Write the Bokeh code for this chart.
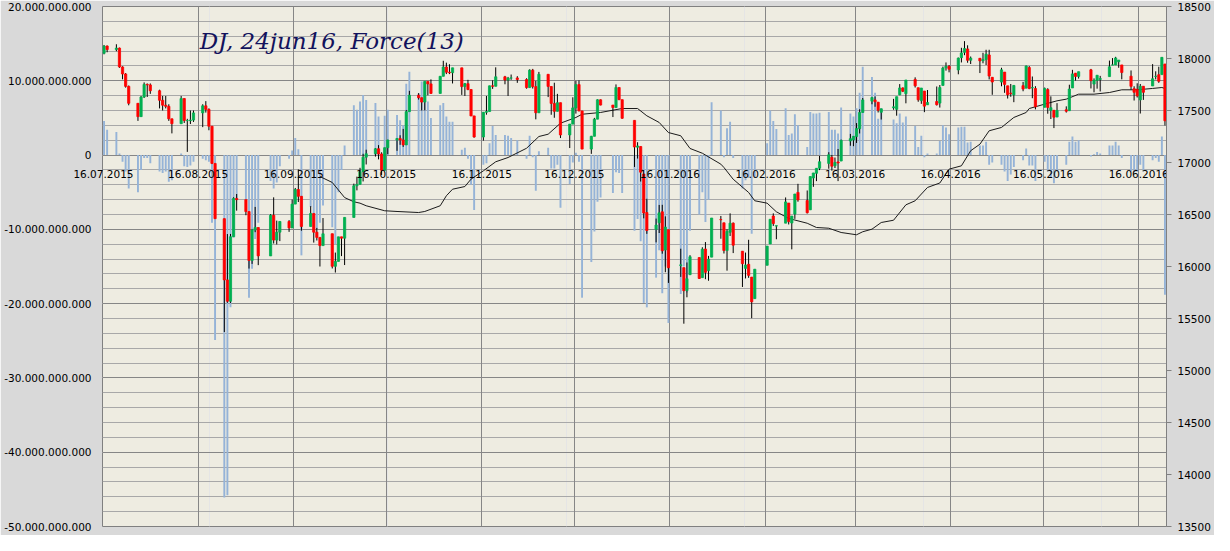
import datetime as dt
from bokeh.plotting import figure
from bokeh.models import Range1d, LinearAxis, FixedTicker, Grid
from bokeh.embed import file_html
from bokeh.resources import INLINE
from bokeh.core.properties import value

# ---------------- data ----------------
dates = [
    "2015-07-16", "2015-07-17", "2015-07-20", "2015-07-21", "2015-07-22", "2015-07-23", "2015-07-24",
    "2015-07-27", "2015-07-28", "2015-07-29", "2015-07-30", "2015-07-31",
    "2015-08-03", "2015-08-04", "2015-08-05", "2015-08-06", "2015-08-07", "2015-08-10", "2015-08-11",
    "2015-08-12", "2015-08-13", "2015-08-14", "2015-08-17", "2015-08-18", "2015-08-19", "2015-08-20",
    "2015-08-21", "2015-08-24", "2015-08-25", "2015-08-26", "2015-08-27", "2015-08-28", "2015-08-31",
    "2015-09-01", "2015-09-02", "2015-09-03", "2015-09-04", "2015-09-08", "2015-09-09", "2015-09-10",
    "2015-09-11", "2015-09-14", "2015-09-15", "2015-09-16", "2015-09-17", "2015-09-18", "2015-09-21",
    "2015-09-22", "2015-09-23", "2015-09-24", "2015-09-25", "2015-09-28", "2015-09-29", "2015-09-30",
    "2015-10-01", "2015-10-02", "2015-10-05", "2015-10-06", "2015-10-07", "2015-10-08", "2015-10-09",
    "2015-10-12", "2015-10-13", "2015-10-14", "2015-10-15", "2015-10-16", "2015-10-19", "2015-10-20",
    "2015-10-21", "2015-10-22", "2015-10-23", "2015-10-26", "2015-10-27", "2015-10-28", "2015-10-29",
    "2015-10-30",
    "2015-11-02", "2015-11-03", "2015-11-04", "2015-11-05", "2015-11-06", "2015-11-09", "2015-11-10",
    "2015-11-11", "2015-11-12", "2015-11-13", "2015-11-16", "2015-11-17", "2015-11-18", "2015-11-19",
    "2015-11-20", "2015-11-23", "2015-11-24", "2015-11-25", "2015-11-27", "2015-11-30",
    "2015-12-01", "2015-12-02", "2015-12-03", "2015-12-04", "2015-12-07", "2015-12-08", "2015-12-09",
    "2015-12-10", "2015-12-11", "2015-12-14", "2015-12-15", "2015-12-16", "2015-12-17", "2015-12-18",
    "2015-12-21", "2015-12-22", "2015-12-23", "2015-12-24", "2015-12-28", "2015-12-29", "2015-12-30",
    "2015-12-31",
    "2016-01-04", "2016-01-05", "2016-01-06", "2016-01-07", "2016-01-08", "2016-01-11", "2016-01-12",
    "2016-01-13", "2016-01-14", "2016-01-15", "2016-01-19", "2016-01-20", "2016-01-21", "2016-01-22",
    "2016-01-25", "2016-01-26", "2016-01-27", "2016-01-28", "2016-01-29",
    "2016-02-01", "2016-02-02", "2016-02-03", "2016-02-04", "2016-02-05", "2016-02-08", "2016-02-09",
    "2016-02-10", "2016-02-11", "2016-02-12", "2016-02-16", "2016-02-17", "2016-02-18", "2016-02-19",
    "2016-02-22", "2016-02-23", "2016-02-24", "2016-02-25", "2016-02-26", "2016-02-29",
    "2016-03-01", "2016-03-02", "2016-03-03", "2016-03-04", "2016-03-07", "2016-03-08", "2016-03-09",
    "2016-03-10", "2016-03-11", "2016-03-14", "2016-03-15", "2016-03-16", "2016-03-17", "2016-03-18",
    "2016-03-21", "2016-03-22", "2016-03-23", "2016-03-24", "2016-03-28", "2016-03-29", "2016-03-30",
    "2016-03-31",
    "2016-04-01", "2016-04-04", "2016-04-05", "2016-04-06", "2016-04-07", "2016-04-08", "2016-04-11",
    "2016-04-12", "2016-04-13", "2016-04-14", "2016-04-15", "2016-04-18", "2016-04-19", "2016-04-20",
    "2016-04-21", "2016-04-22", "2016-04-25", "2016-04-26", "2016-04-27", "2016-04-28", "2016-04-29",
    "2016-05-02", "2016-05-03", "2016-05-04", "2016-05-05", "2016-05-06", "2016-05-09", "2016-05-10",
    "2016-05-11", "2016-05-12", "2016-05-13", "2016-05-16", "2016-05-17", "2016-05-18", "2016-05-19",
    "2016-05-20", "2016-05-23", "2016-05-24", "2016-05-25", "2016-05-26", "2016-05-27", "2016-05-31",
    "2016-06-01", "2016-06-02", "2016-06-03", "2016-06-06", "2016-06-07", "2016-06-08", "2016-06-09",
    "2016-06-10", "2016-06-13", "2016-06-14", "2016-06-15", "2016-06-16", "2016-06-17", "2016-06-20",
    "2016-06-21", "2016-06-22", "2016-06-23", "2016-06-24",
]

open_ = [
    18050, 18120, 18086, 18100, 17919, 17851, 17732, 17569, 17441, 17630, 17751, 17746,
    17690, 17598, 17551, 17540, 17420, 17373, 17615, 17403, 17403, 17408, 17477, 17545, 17511, 17349,
    16991, 16460, 15871, 15666, 16286, 16655, 16643,
    16528, 16058, 16351, 16375, 16102, 16493, 16254, 16330, 16433, 16371, 16600, 16740, 16675, 16385,
    16510, 16330, 16280, 16201, 16315, 16002, 16049,
    16285, 16272, 16472, 16776, 16790, 16912, 17051, 17084, 17132, 17082, 16925, 17142, 17216, 17231,
    17217, 17169, 17489, 17647, 17623, 17581, 17780, 17756,
    17664, 17829, 17918, 17868, 17863, 17910, 17730, 17758, 17702, 17448, 17245, 17483, 17490, 17737,
    17733, 17824, 17793, 17812, 17813, 17798,
    17720, 17888, 17730, 17478, 17848, 17731, 17568, 17492, 17575, 17265, 17369, 17525, 17749, 17496,
    17129, 17252, 17417, 17603, 17552, 17528, 17721, 17604,
    17405, 17147, 17154, 16889, 16519, 16358, 16420, 16526, 16159, 16354, 16009, 15989, 15768, 15921,
    16086, 15893, 16168, 15960, 16090,
    16452, 16420, 16153, 16329, 16417, 16147, 15982, 16021, 15898, 15691, 16012, 16217, 16485, 16389,
    16417, 16610, 16418, 16504, 16712, 16634,
    16545, 16851, 16896, 16945, 16991, 17050, 16969, 17006, 17014, 17207, 17217, 17249, 17325, 17481,
    17590, 17602, 17580, 17483, 17526, 17511, 17651, 17717,
    17661, 17799, 17719, 17595, 17687, 17555, 17586, 17571, 17741, 17910, 17925, 17890, 18008, 18059,
    18092, 17983, 18002, 17978, 17990, 18034, 17819,
    17773, 17869, 17737, 17667, 17650, 17739, 17715, 17913, 17717, 17711, 17531, 17701, 17501, 17502,
    17437, 17507, 17498, 17717, 17859, 17828, 17891,
    17754, 17790, 17799, 17826, 17937, 17938, 17969, 17938, 17830, 17710, 17703, 17602, 17733, 17736,
    17827, 17844, 17845, 17947,
]

high = [
    18130, 18125, 18137, 18105, 17925, 17860, 17740, 17570, 17640, 17770, 17760, 17760,
    17700, 17640, 17640, 17560, 17420, 17640, 17615, 17420, 17500, 17500, 17560, 17590, 17520, 17349,
    16991, 16460, 16312, 16313, 16666, 16697, 16643,
    16528, 16361, 16573, 16375, 16504, 16665, 16441, 16434, 16446, 16644, 16755, 16933, 16675, 16580,
    16510, 16371, 16280, 16466, 16315, 16134, 16285,
    16285, 16472, 16797, 16864, 16949, 17084, 17123, 17138, 17167, 17098, 17142, 17219, 17235, 17262,
    17323, 17505, 17689, 17667, 17623, 17780, 17780, 17799,
    17829, 17978, 17960, 17945, 17910, 17910, 17765, 17795, 17702, 17448, 17483, 17640, 17738, 17790,
    17915, 17833, 17823, 17846, 17830, 17810,
    17896, 17900, 17784, 17871, 17848, 17731, 17767, 17660, 17575, 17369, 17627, 17785, 17789, 17496,
    17256, 17429, 17607, 17606, 17552, 17751, 17721, 17604,
    17405, 17195, 17154, 16889, 16651, 16461, 16592, 16593, 16482, 16354, 16171, 15989, 16039, 16109,
    16086, 16185, 16235, 16102, 16466,
    16486, 16420, 16357, 16511, 16423, 16147, 16134, 16257, 15898, 15974, 16196, 16454, 16511, 16392,
    16664, 16610, 16485, 16697, 16795, 16731,
    16865, 16900, 16945, 17063, 17099, 17072, 17048, 17130, 17220, 17275, 17254, 17379, 17512, 17620,
    17631, 17635, 17580, 17516, 17612, 17633, 17754, 17722,
    17793, 17819, 17719, 17716, 17687, 17697, 17731, 17745, 17922, 17962, 17937, 18009, 18103, 18167,
    18127, 18019, 18002, 18055, 18084, 18084, 17820,
    17911, 17869, 17737, 17755, 17744, 17775, 17932, 17927, 17827, 17734, 17721, 17714, 17636, 17502,
    17571, 17540, 17748, 17891, 17860, 17873, 17900,
    17809, 17839, 17833, 17980, 18004, 18016, 17985, 17938, 17885, 17733, 17762, 17755, 17733, 17946,
    17877, 17921, 18011, 17947,
]

low = [
    18040, 18060, 18070, 17910, 17800, 17720, 17550, 17400, 17440, 17620, 17630, 17660,
    17520, 17500, 17520, 17400, 17280, 17373, 17380, 17102, 17370, 17390, 17340, 17480, 17310, 16985,
    16459, 15370, 15651, 15650, 16286, 16537, 16493,
    15980, 16025, 16330, 16013, 16102, 16221, 16212, 16244, 16333, 16371, 16600, 16620, 16344, 16385,
    16230, 16250, 16000, 16201, 15981, 15942, 16049,
    16100, 16014, 16472, 16732, 16790, 16818, 16981, 17057, 17030, 16880, 16925, 17080, 17112, 17170,
    17150, 17169, 17489, 17605, 17500, 17501, 17646, 17661,
    17664, 17829, 17850, 17850, 17760, 17650, 17640, 17695, 17446, 17239, 17210, 17460, 17490, 17708,
    17733, 17752, 17640, 17795, 17766, 17710,
    17720, 17711, 17415, 17478, 17629, 17459, 17430, 17492, 17235, 17139, 17369, 17470, 17492, 17129,
    17083, 17252, 17417, 17550, 17437, 17528, 17600, 17421,
    16957, 17038, 16817, 16463, 16314, 16232, 16322, 16123, 15945, 15842, 15900, 15450, 15704, 15921,
    15881, 15893, 15878, 15863, 16090,
    16267, 16125, 15960, 16293, 16129, 15803, 15885, 15891, 15503, 15691, 16012, 16217, 16390, 16262,
    16417, 16404, 16165, 16458, 16623, 16510,
    16545, 16766, 16821, 16927, 16940, 16921, 16947, 16821, 17014, 17161, 17157, 17188, 17279, 17481,
    17560, 17536, 17481, 17413, 17507, 17450, 17647, 17677,
    17569, 17721, 17584, 17564, 17484, 17555, 17548, 17528, 17741, 17883, 17867, 17848, 17962, 18032,
    17959, 17947, 17860, 17954, 17937, 17799, 17651,
    17733, 17670, 17615, 17632, 17580, 17685, 17715, 17705, 17618, 17511, 17531, 17469, 17418, 17331,
    17437, 17480, 17498, 17717, 17788, 17807, 17712,
    17675, 17710, 17683, 17826, 17937, 17937, 17911, 17800, 17700, 17596, 17625, 17471, 17602, 17736,
    17799, 17766, 17845, 17356,
]

close = [
    18120, 18086, 18100, 17919, 17851, 17732, 17569, 17441, 17630, 17751, 17746, 17690,
    17598, 17551, 17540, 17420, 17373, 17615, 17403, 17403, 17408, 17477, 17545, 17511, 17349, 16991,
    16460, 15871, 15666, 16286, 16655, 16643, 16528,
    16058, 16351, 16375, 16102, 16493, 16254, 16330, 16433, 16371, 16600, 16740, 16675, 16385, 16510,
    16330, 16280, 16201, 16315, 16002, 16049, 16285,
    16272, 16472, 16776, 16790, 16912, 17051, 17084, 17132, 17082, 16925, 17142, 17216, 17231, 17217,
    17169, 17489, 17647, 17623, 17581, 17780, 17756, 17664,
    17829, 17918, 17868, 17863, 17910, 17730, 17758, 17702, 17448, 17245, 17483, 17490, 17737, 17733,
    17824, 17793, 17812, 17813, 17798, 17720,
    17888, 17730, 17478, 17848, 17731, 17568, 17492, 17575, 17265, 17369, 17525, 17749, 17496, 17129,
    17252, 17417, 17603, 17552, 17528, 17721, 17604, 17425,
    17149, 17159, 16907, 16514, 16346, 16399, 16516, 16151, 16379, 15988, 16016, 15767, 15883, 16094,
    15885, 16167, 15944, 16070, 16466,
    16449, 16154, 16337, 16417, 16205, 16027, 16014, 15915, 15660, 15974, 16196, 16454, 16413, 16392,
    16621, 16432, 16485, 16697, 16640, 16517,
    16865, 16899, 16944, 17007, 17074, 16964, 17000, 16995, 17213, 17229, 17252, 17326, 17481, 17602,
    17624, 17583, 17503, 17516, 17535, 17633, 17717, 17685,
    17793, 17737, 17603, 17716, 17542, 17577, 17556, 17721, 17908, 17926, 17897, 18004, 18054, 18096,
    17983, 18004, 17977, 17990, 18042, 17831, 17774,
    17891, 17751, 17651, 17661, 17741, 17706, 17928, 17711, 17721, 17535, 17711, 17530, 17527, 17435,
    17501, 17493, 17706, 17852, 17828, 17873, 17787,
    17790, 17839, 17807, 17920, 17938, 18005, 17985, 17865, 17732, 17675, 17640, 17733, 17675, 17805,
    17830, 17781, 18011, 17401,
]

# Force(13), in billions
force_bn = [
    4.6, 3.4, 3.1, 0.2, -0.9, -2.2, -4.5, -5.0, -2.0, -0.4, -0.4, -1.1,
    -2.2, -2.4, -2.2, -3.6, -3.4, 0.2, -1.5, -1.6, -1.4, -0.9, -0.5, -0.7, -0.9, -9.1,
    -24.9, -46.1, -45.8, -20.5, -11.1, -5.9, -6.1,
    -19.2, -15.3, -11.3, -9.1, -3.5, -4.5, -3.7, -1.5, -0.5, 0.6, 2.3, 0.8, -13.5, -7.0,
    -7.9, -10.0, -9.1, -6.8, -9.7, -12.0, -5.0,
    -2.0, 1.3, 6.7, 6.1, 7.2, 8.1, 7.4, 7.0, 5.2, -0.5, 5.3, 6.1, 5.4, 4.7,
    4.0, 9.6, 11.2, 8.3, 9.9, 9.9, 7.2, 5.0,
    6.7, 7.0, 5.2, 4.5, 4.5, 0.7, 1.0, -0.5, -4.0, -7.4, -1.3, -1.1, 1.6, 3.9,
    2.7, 2.7, 2.6, 2.3, 2.0, -0.5,
    2.6, -0.3, -4.8, 0.5, 1.0, -1.8, -1.8, -1.3, -7.1, -3.9, -1.0, 0.3, -0.9, -19.2,
    -14.4, -10.3, -6.3, -5.7, -5.1, -2.3, -2.4, -5.1,
    -10.2, -8.6, -11.6, -19.9, -20.5, -16.5, -12.8, -18.6, -15.0, -22.6, -18.7, -15.0, -18.5, -10.2,
    -8.0, -5.0, -9.0, -6.0, 7.1,
    6.0, -0.3, 3.6, 4.5, -0.4, -4.5, -3.4, -3.1, -10.6, -3.1, 1.6, 6.0, 4.6, 3.5,
    6.3, 2.7, 2.9, 5.5, 4.0, 1.1,
    5.8, 5.6, 5.6, 5.7, 5.8, 3.4, 3.4, 2.9, 6.4, 5.6, 5.2, 6.3, 8.4, 11.9,
    10.5, 8.4, 4.9, 6.3, 4.8, 4.3, 5.6, 4.4,
    5.2, 3.9, 1.1, 2.6, -0.3, 0.2, 0.2, 1.9, 4.0, 3.7, 2.8, 3.7, 3.8, 3.8,
    1.7, 1.8, 1.3, 1.3, 1.8, -1.3, -1.0,
    -1.3, -2.2, -3.5, -2.6, -1.6, -0.7, 0.9, -1.4, -1.4, -3.5, -0.9, -2.2, -3.1, -3.8,
    -2.2, -1.3, 1.8, 2.5, 1.8, 2.0, -0.2,
    0.1, 0.4, 0.2, 1.3, 1.3, 1.8, 1.3, -0.4, -2.2, -2.2, -2.2, -1.3, -2.2, -0.7,
    -0.4, -0.9, 2.5, -18.8,
]

# moving-average line (right axis)
ma_dates = [
    "2015-09-24", "2015-09-28", "2015-10-02", "2015-10-05", "2015-10-07", "2015-10-09", "2015-10-15",
    "2015-10-19", "2015-10-26", "2015-10-28", "2015-11-02", "2015-11-04", "2015-11-06", "2015-11-10",
    "2015-11-12", "2015-11-16", "2015-11-20", "2015-11-24", "2015-11-30", "2015-12-04", "2015-12-07",
    "2015-12-11", "2015-12-16", "2015-12-18", "2015-12-24", "2015-12-28", "2015-12-31", "2016-01-05",
    "2016-01-08", "2016-01-12", "2016-01-15", "2016-01-19", "2016-01-22", "2016-01-26", "2016-02-01",
    "2016-02-02", "2016-02-05", "2016-02-10", "2016-02-12", "2016-02-16", "2016-02-19", "2016-02-23",
    "2016-02-29", "2016-03-03", "2016-03-07", "2016-03-11", "2016-03-16", "2016-03-18", "2016-03-21",
    "2016-03-24", "2016-03-28", "2016-04-01", "2016-04-04", "2016-04-08", "2016-04-12", "2016-04-15",
    "2016-04-19", "2016-04-22", "2016-04-25", "2016-04-28", "2016-05-02", "2016-05-06", "2016-05-10",
    "2016-05-11", "2016-05-16", "2016-05-20", "2016-05-23", "2016-05-27", "2016-06-01", "2016-06-06",
    "2016-06-10", "2016-06-15", "2016-06-20", "2016-06-23", "2016-06-24",
]
ma_values = [
    16865, 16808, 16663, 16622, 16609, 16584, 16536,
    16529, 16519, 16529, 16584, 16680, 16743, 16769,
    16840, 16920, 17007, 17048, 17137, 17250, 17272,
    17378, 17433, 17464, 17481, 17503, 17519, 17519,
    17449, 17385, 17288, 17257, 17135, 17089, 16984,
    16952, 16839, 16712, 16632, 16609, 16526, 16462,
    16416, 16375, 16368, 16327, 16305, 16334, 16359,
    16423, 16445, 16593, 16632, 16760, 16803, 16936,
    16968, 17113, 17176, 17305, 17337, 17433, 17481,
    17519, 17561, 17593, 17609, 17657, 17657, 17673,
    17699, 17699, 17712, 17721, 17712,
]

month_ticks = ["2015-07-16", "2015-08-16", "2015-09-16", "2015-10-16", "2015-11-16", "2015-12-16",
               "2016-01-16", "2016-02-16", "2016-03-16", "2016-04-16", "2016-05-16", "2016-06-16"]
month_labels = ["16.07.2015", "16.08.2015", "16.09.2015", "16.10.2015", "16.11.2015", "16.12.2015",
                "16.01.2016", "16.02.2016", "16.03.2016", "16.04.2016", "16.05.2016", "16.06.2016"]

force_ticks = [20e9, 10e9, 0, -10e9, -20e9, -30e9, -40e9, -50e9]
force_labels = ["20.000.000.000", "10.000.000.000", "0", "-10.000.000.000", "-20.000.000.000",
                "-30.000.000.000", "-40.000.000.000", "-50.000.000.000"]
price_ticks = [13500, 14000, 14500, 15000, 15500, 16000, 16500, 17000, 17500, 18000, 18500]

title_text = "DJ, 24jun16, Force(13)"

n = len(dates)
assert all(len(a) == n for a in (open_, high, low, close, force_bn)), \
    [len(a) for a in (dates, open_, high, low, close, force_bn)]
assert len(ma_dates) == len(ma_values)

# ---------------- helpers ----------------
DAY = 86400000.0
EPOCH = dt.datetime(1970, 1, 1)


def ms(s, hours=0):
    d = dt.datetime.strptime(s, "%Y-%m-%d") + dt.timedelta(hours=hours)
    return (d - EPOCH).total_seconds() * 1000.0


x = [ms(s, 12) for s in dates]
FONT = "DejaVu Sans"
FS = "10.5px"
GRID_MAJOR = "#868686"
GRID_MINOR = "#A8A8A8"

p = figure(frame_width=1064, frame_height=520, output_backend="svg", toolbar_location=None,
           x_range=Range1d(ms("2015-07-16"), ms("2016-06-25")),
           y_range=Range1d(-50e9, 20e9),
           x_axis_location=None, y_axis_location=None,
           min_border_left=102, min_border_right=48, min_border_top=6, min_border_bottom=9,
           background_fill_color="#EEECE1", border_fill_color="#D9D9D9",
           outline_line_color="#808080")


def style_axis(ax, standoff):
    ax.axis_line_color = None
    ax.major_tick_line_color = None
    ax.minor_tick_line_color = None
    ax.major_tick_out = 0
    ax.major_tick_in = 0
    ax.minor_tick_out = 0
    ax.minor_tick_in = 0
    ax.major_label_standoff = standoff
    ax.major_label_text_font = FONT
    ax.major_label_text_font_size = FS
    ax.major_label_text_color = "#000000"


# first date label: it straddles the frame's left edge, so it is drawn by a label-only axis
# (axes are not clipped to the frame); its tick sits just below the zero line
first_label_pos = -2545000000
date_axis = LinearAxis(ticker=FixedTicker(ticks=[first_label_pos]),
                       major_label_overrides={first_label_pos: month_labels[0]})
style_axis(date_axis, -31)

# left axis (Force)
force_axis = LinearAxis(ticker=FixedTicker(ticks=force_ticks),
                        major_label_overrides={int(t): l for t, l in zip(force_ticks, force_labels)})
style_axis(force_axis, -21)

p.add_layout(date_axis, "left")
p.add_layout(force_axis, "left")

# grids
p.add_layout(Grid(dimension=1,
                  ticker=FixedTicker(ticks=force_ticks,
                                     minor_ticks=[v * 1e9 for v in range(-50, 21, 2)]),
                  grid_line_color=GRID_MAJOR, minor_grid_line_color=GRID_MINOR))
p.add_layout(Grid(dimension=0, ticker=FixedTicker(ticks=[ms(s) for s in month_ticks]),
                  grid_line_color=GRID_MAJOR))

# right axis (price)
p.extra_y_ranges = {"price": Range1d(13500, 18500)}
ra = LinearAxis(y_range_name="price", ticker=FixedTicker(ticks=price_ticks))
ra.axis_line_color = "#808080"
ra.major_tick_line_color = "#808080"
ra.major_tick_out = 5
ra.major_tick_in = 0
ra.minor_tick_line_color = None
ra.major_label_standoff = 6
ra.major_label_text_font = FONT
ra.major_label_text_font_size = FS
ra.major_label_text_color = "#000000"
p.add_layout(ra, "right")

# force bars
p.vbar(x=x, top=[f * 1e9 for f in force_bn], bottom=0, width=0.62 * DAY,
       fill_color="#95B3D7", line_color=None)

# moving average
p.line(x=[ms(s, 12) for s in ma_dates], y=ma_values, y_range_name="price",
       line_color="#1A1A1A", line_width=1)

# candles
cols = ["#00B050" if c >= o else "#FF0000" for o, c in zip(open_, close)]
p.segment(x0=x, y0=low, x1=x, y1=high, y_range_name="price", line_color="#000000", line_width=1)
p.vbar(x=x, top=[max(o, c) for o, c in zip(open_, close)],
       bottom=[min(o, c) for o, c in zip(open_, close)],
       width=0.72 * DAY, fill_color=cols, line_color=cols, line_width=0.8, y_range_name="price")

# the other date labels along the zero line
p.text(x=[ms(s) for s in month_ticks[1:]], y=[0] * (len(month_ticks) - 1), text=month_labels[1:],
       text_align="center", text_baseline="middle", y_offset=19,
       text_font=value(FONT), text_font_size=FS, text_color="#000000")

# title
p.text(x=[ms("2015-08-16", 12)], y=[15.3e9], text=[title_text], text_align="left",
       text_baseline="middle", text_font=value("DejaVu Serif"), text_font_style="italic",
       text_font_size="23px", text_color="#12125C")

open("out.html", "w").write(file_html(p, INLINE, title="DJ Force(13)"))
